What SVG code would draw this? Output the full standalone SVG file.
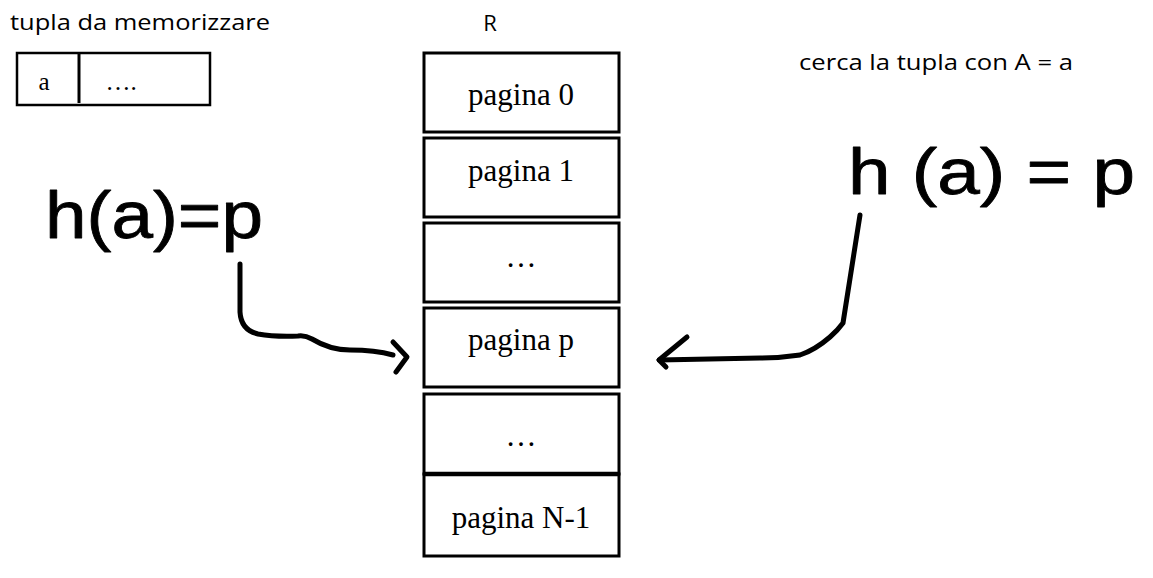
<svg xmlns="http://www.w3.org/2000/svg" width="1153" height="578" viewBox="0 0 1153 578">
  <style>
    .label { font-family: "Open Sans", "Liberation Sans", sans-serif; font-size: 22px; fill: #000; }
    .serif { font-family: "Liberation Serif", "Times New Roman", serif; fill: #000; }
    .page { fill: #fff; stroke: #000; stroke-width: 3; }
    .page-text { font-family: "Liberation Serif", "Times New Roman", serif; font-size: 31px; fill: #000; text-anchor: middle; }
    .hand { font-family: "Liberation Sans", "DejaVu Sans", sans-serif; fill: #000; stroke: #000; stroke-width: 0.8; stroke-linejoin: round; }
    .ink { fill: none; stroke: #000; stroke-width: 5; stroke-linecap: round; stroke-linejoin: round; }
  </style>
  <rect width="1153" height="578" fill="#fff"/>

  <!-- record to be stored -->
  <g id="tupla">
    <text class="label" x="10" y="30" textLength="260" lengthAdjust="spacingAndGlyphs">tupla da memorizzare</text>
    <rect x="17" y="53" width="193" height="52" fill="#fff" stroke="#000" stroke-width="2.5"/>
    <line x1="79" y1="52" x2="79" y2="103" stroke="#000" stroke-width="3"/>
    <text class="serif" x="44" y="90" font-size="25" text-anchor="middle">a</text>
    <text class="serif" x="121" y="90" font-size="25" text-anchor="middle">….</text>
  </g>

  <!-- relation R as a column of pages -->
  <g id="relazione">
    <text class="label" x="490" y="31" text-anchor="middle">R</text>
    <g id="pagina-0">
      <rect class="page" x="424" y="53" width="195" height="79"/>
      <text class="page-text" x="521" y="105">pagina 0</text>
    </g>
    <g id="pagina-1">
      <rect class="page" x="424" y="138" width="195" height="79"/>
      <text class="page-text" x="521" y="181">pagina 1</text>
    </g>
    <g id="pagina-dots-1">
      <rect class="page" x="424" y="223" width="195" height="79"/>
      <text class="page-text" x="521" y="267">…</text>
    </g>
    <g id="pagina-p">
      <rect class="page" x="424" y="308" width="195" height="79"/>
      <text class="page-text" x="521" y="350">pagina p</text>
    </g>
    <g id="pagina-dots-2">
      <rect class="page" x="424" y="394" width="195" height="80"/>
      <text class="page-text" x="521" y="446">…</text>
    </g>
    <g id="pagina-n-1">
      <rect class="page" x="424" y="474" width="195" height="82"/>
      <line x1="424" y1="474" x2="619" y2="474" stroke="#000" stroke-width="4.5"/>
      <text class="page-text" x="521" y="528">pagina N-1</text>
    </g>
  </g>

  <!-- hash on insert -->
  <g id="hash-inserimento">
    <text class="hand" x="45" y="238" font-size="66" textLength="218" lengthAdjust="spacingAndGlyphs">h(a)=p</text>
  </g>

  <!-- hash on lookup -->
  <g id="ricerca">
    <text class="label" x="799" y="70" textLength="274" lengthAdjust="spacingAndGlyphs">cerca la tupla con A = a</text>
    <text class="hand" x="848" y="194" font-size="64" textLength="287" lengthAdjust="spacingAndGlyphs">h (a) = p</text>
  </g>

  <!-- connectors -->
  <g id="connettori">
    <path class="ink" d="M240 264 L240 312 Q241 330 258 334 Q275 337 298 336 Q305 335 312 339 Q330 350 350 350 Q375 350 393 355"/>
    <path class="ink" d="M393 342 L407 357 L396 372"/>
    <path class="ink" d="M860 215 L843 323 Q838 330 830 337 Q815 350 800 355 Q780 358 760 358 L659 360"/>
    <path class="ink" d="M687 337 L659 360 L666 367"/>
  </g>
</svg>
